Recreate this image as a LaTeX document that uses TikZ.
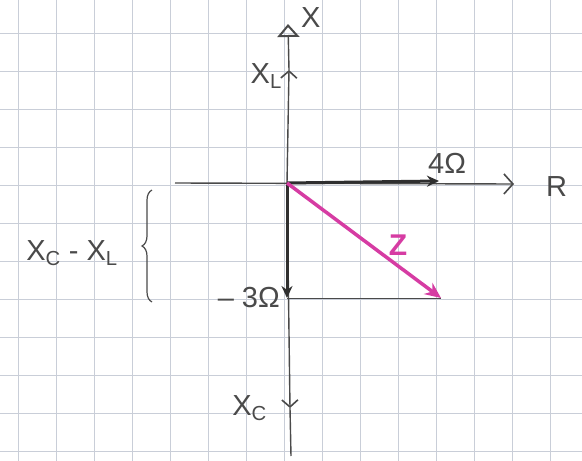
\documentclass[tikz,border=0pt]{standalone}
\usepackage{fontspec}
\setmainfont{Liberation Sans}
\usepackage{tikz}
\usetikzlibrary{arrows.meta, positioning, decorations.pathreplacing}
\definecolor{pencil}{HTML}{4A4A4A}
\definecolor{lead}{HTML}{2F2F2F}
\definecolor{magentaink}{HTML}{D63CA3}
\definecolor{gridline}{HTML}{C9CED8}
\tikzstyle{axis} = [pencil, line width=1.4pt]
\tikzstyle{tick} = [-{Straight Barb[length=7pt, width=16pt, line width=1.6pt]}]
\tikzstyle{phasor} = [lead, line width=3pt, -{Stealth[length=12pt, width=11pt]}]
\tikzstyle{impedance} = [magentaink, line width=3.5pt, -{Stealth[length=16pt, width=14pt, open]}]
\tikzstyle{guide} = [pencil, line width=0.9pt]
\tikzstyle{label} = [pencil, font=\fontsize{29}{33}\selectfont, inner sep=1pt]
\tikzstyle{bracket} = [pencil, line width=1.2pt, decorate, decoration={brace, amplitude=10pt}]

\begin{document}
\begin{tikzpicture}[x=1pt, y=-1pt]

\useasboundingbox (0,0) rectangle (582,461);
\fill[white] (0,0) rectangle (582,461);

% Paper grid
\foreach \gx in {18,56,...,582} \draw[gridline, line width=0.7pt] (\gx,0) -- (\gx,461);
\foreach \gy in {33,71,...,461} \draw[gridline, line width=0.7pt] (0,\gy) -- (582,\gy);

% Points
\coordinate (origin) at (287,183);
\coordinate (vtop) at (288,24);
\coordinate (xltip) at (289,70);
\coordinate (xctip) at (290,408);
\coordinate (vbottom) at (291,456);
\coordinate (hleft) at (175,183);
\coordinate (hright) at (514,184);
\coordinate (reach) at (439,181);
\coordinate (drop) at (287,298);
\coordinate (zend) at (441,298);

% Nodes
\node (xlabel) [label, anchor=west] at (300,18) {X};
\node (rlabel) [label, anchor=west] at (545,187) {R};
\node (xl) [label, anchor=east, xshift=-6pt, yshift=-6pt] at (xltip) {X\textsubscript{L}};
\node (xc) [label, anchor=east, xshift=-22pt] at (xctip) {X\textsubscript{C}};
\node (ohm4) [label, above right=6pt and -12pt of reach] {4Ω};
\node (ohm3) [label, left=6pt of drop] {– 3Ω};
\node (zlabel) [label, magentaink, font=\fontsize{30}{34}\bfseries] at (398,245) {Z};
\node (diff) [label] at (72,253) {X\textsubscript{C} - X\textsubscript{L}};

% Axes
\draw [axis, -{Straight Barb[length=9pt, width=20pt, line width=1.6pt]}] (hleft) -- (hright);
\draw [axis, tick] (origin) -- (xltip);
\draw [axis, -{Triangle[open, length=13pt, width=22pt, line width=2pt]}] (xltip) -- (vtop);
\draw [axis, tick] (origin) -- (xctip);
\draw [axis] (xctip) -- (vbottom);

% Arrows
\draw [phasor] (origin) -- (reach);
\draw [phasor] (origin) -- (drop);
\draw [guide] (drop) -- (zend);
\draw [impedance] (origin) -- (zend);
\draw [bracket] (152,302) -- (152,190);

\end{tikzpicture}
\end{document}
